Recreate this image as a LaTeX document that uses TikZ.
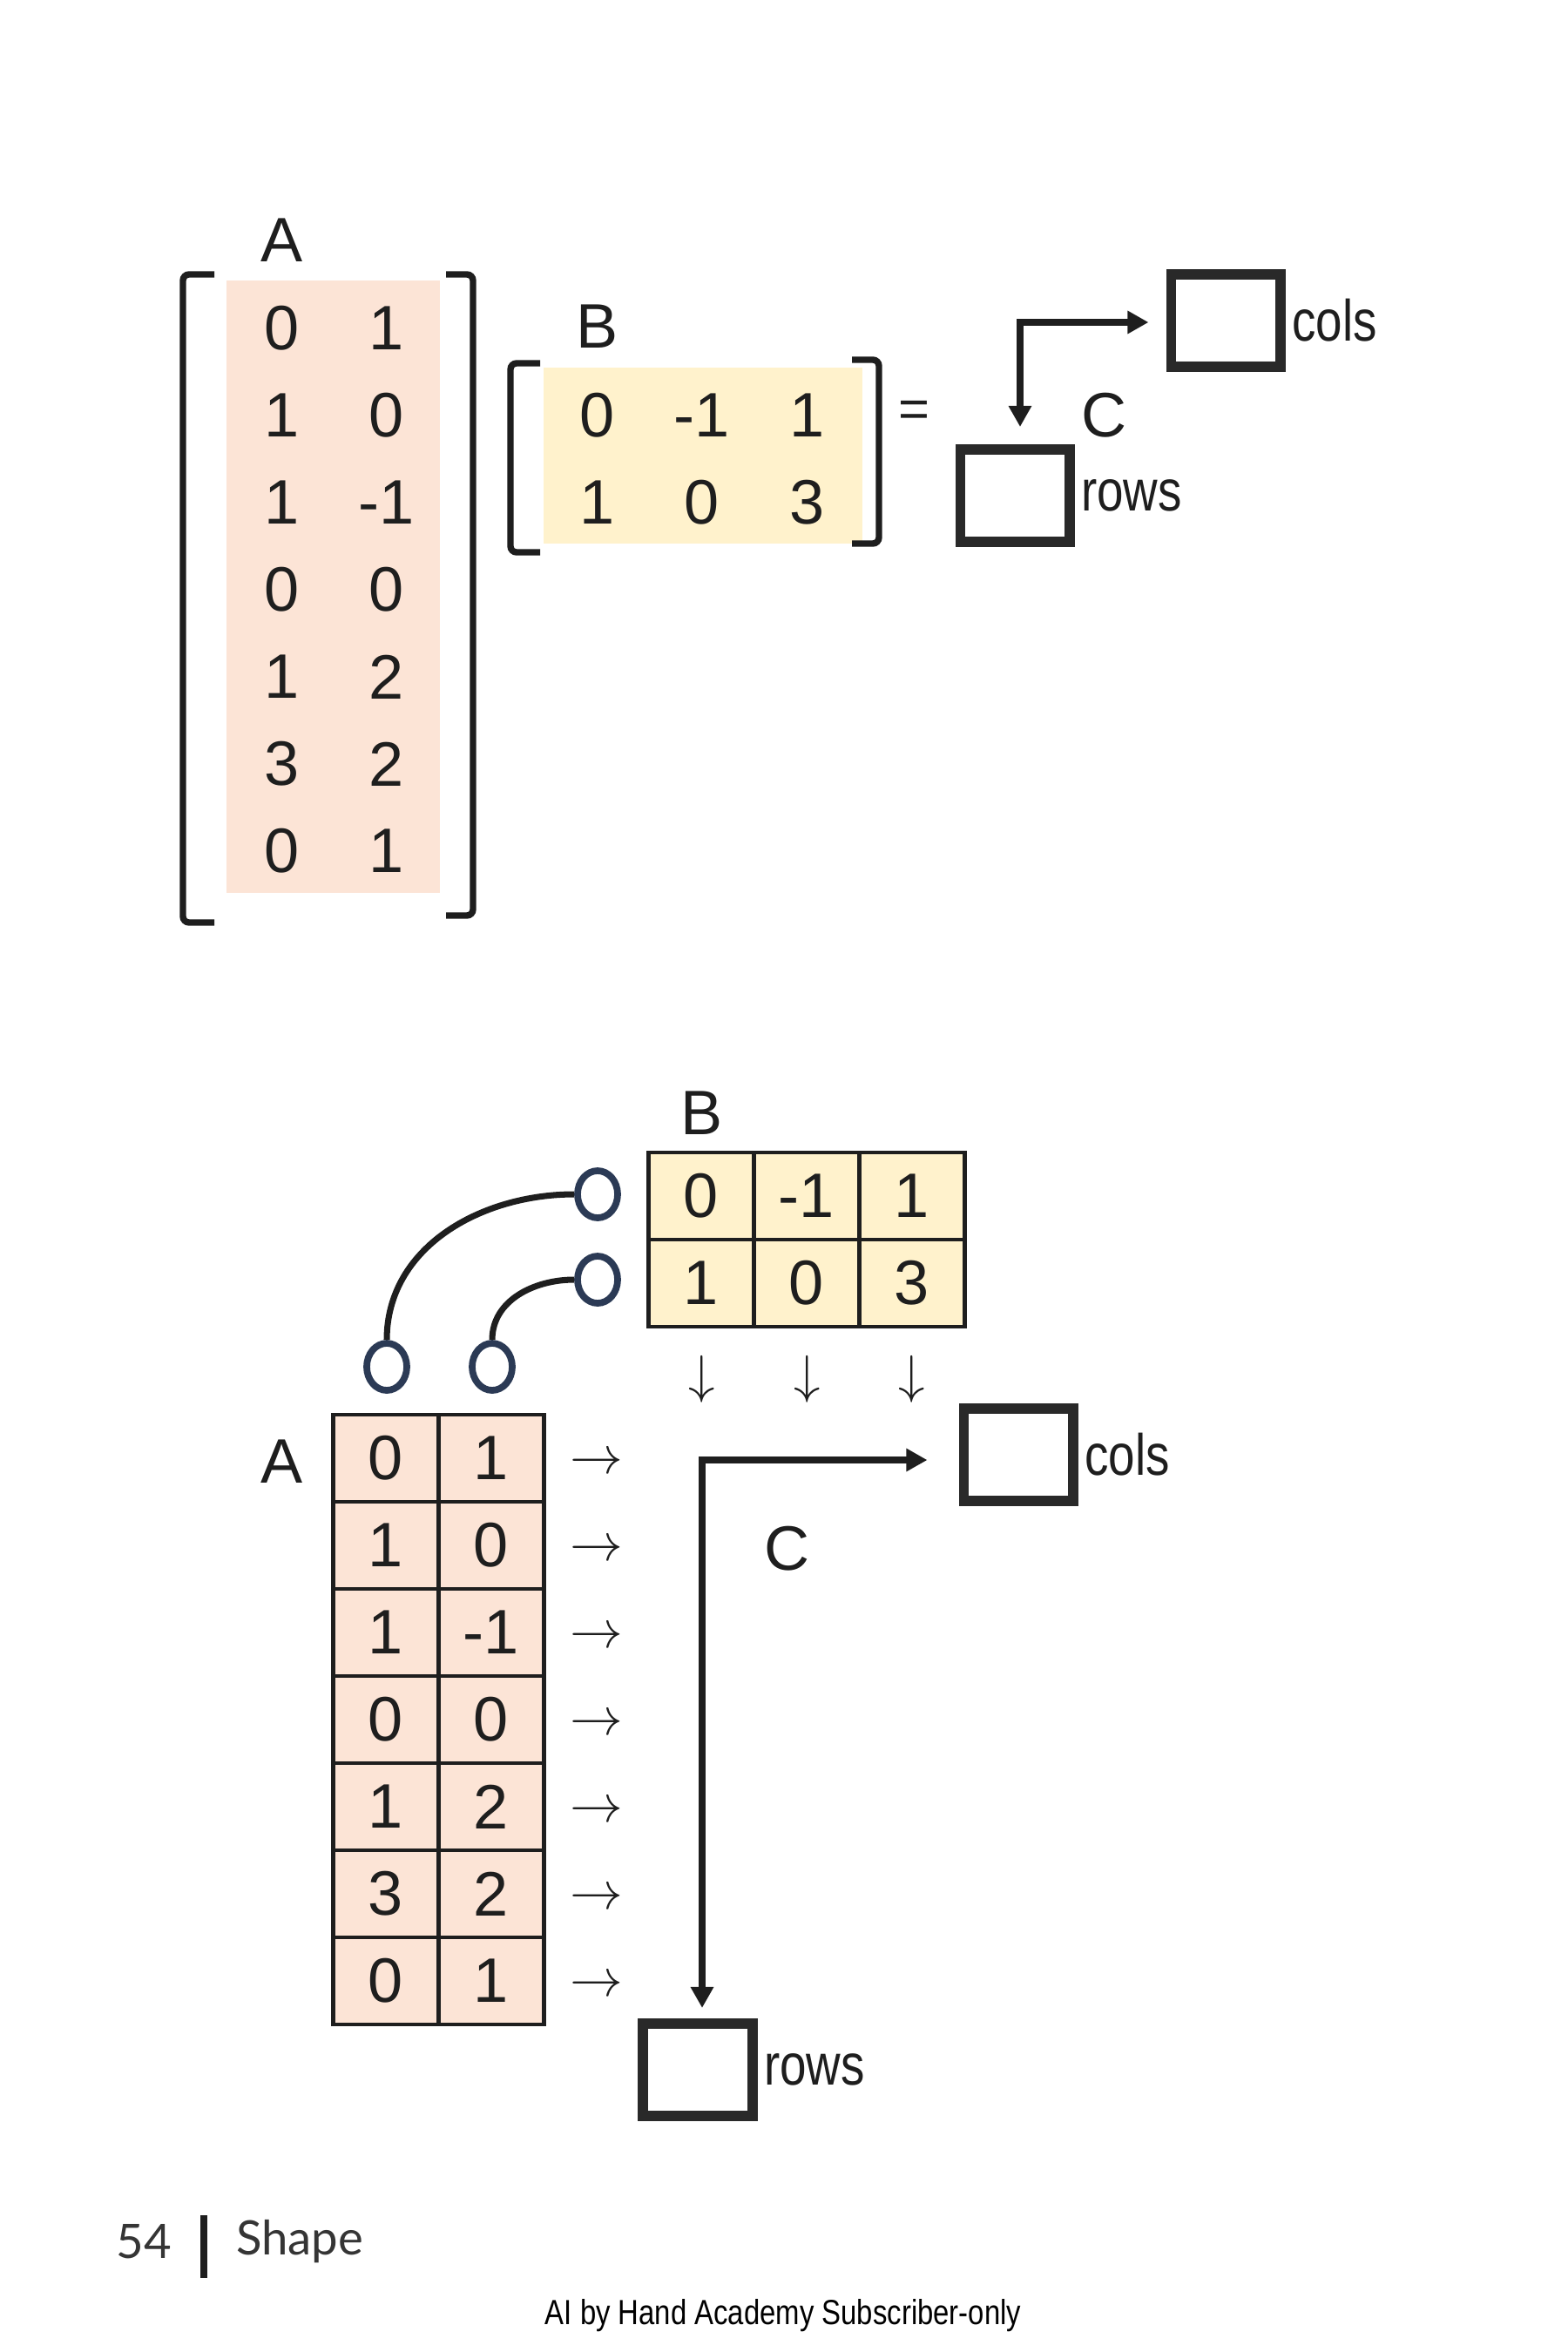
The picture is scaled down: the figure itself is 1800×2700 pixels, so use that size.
\documentclass[tikz,border=0pt]{standalone}
\usepackage{fontspec}
\setmainfont{Liberation Sans}
\newfontfamily\narrowfont[FakeStretch=0.82]{Liberation Sans}
\newfontfamily\footfont{Lato}
\usetikzlibrary{arrows.meta,positioning,shapes.geometric}
\definecolor{pinkfill}{HTML}{FCE4D6}
\definecolor{yellowfill}{HTML}{FFF2CC}
\definecolor{dotblue}{HTML}{2B3A55}
\definecolor{ink}{HTML}{1E1E1E}
\tikzset{
  num/.style={font=\fontsize{20.5}{24}\selectfont, text=ink, inner sep=0pt},
  mlabel/.style={num},
  acell/.style={num, draw=ink, fill=pinkfill, line width=1.3pt,
        minimum width=1.21cm, minimum height=1cm, outer sep=0pt},
  bcell/.style={acell, fill=yellowfill},
  bracket/.style={draw=ink, line width=2.1pt, rounded corners=2pt},
  shapebox/.style={draw=ink!95, line width=3.4pt, fill=white,
        minimum width=1.25cm, minimum height=1.06cm, inner sep=0pt},
  boxlabel/.style={font=\narrowfont\fontsize{19}{22}\selectfont, text=ink, inner sep=2pt},
  dimarrow/.style={draw=ink, line width=2.5pt,
        {Triangle[length=0.24cm,width=0.25cm]}-{Triangle[length=0.24cm,width=0.25cm]}},
  dot/.style={ellipse, draw=dotblue, line width=2.2pt, fill=white,
        minimum width=0.46cm, minimum height=0.54cm, inner sep=0pt},
  link/.style={draw=ink, line width=2pt},
  flow/.style={font=\fontsize{17.5}{20}\selectfont, text=ink, inner sep=0pt}
}

\begin{document}
\begin{tikzpicture}[x=0.01cm, y=-0.01cm]
\useasboundingbox (0,0) rectangle (1800,2700);

% matrices written out
\node[mlabel] (tA) at (324,276) {A};
\fill[pinkfill] (260,322) rectangle (505,1025);
\draw[bracket] (246,315) -- (210,315) -- (210,1059) -- (246,1059);
\draw[bracket] (512,315) -- (543,315) -- (543,1051) -- (512,1051);
\foreach \p/\q [count=\i] in {0/1,1/0,1/-1,0/0,1/2,3/2,0/1} {
  \node[num] (ta-\i-1) at (324,{377+100*(\i-1)}) {\p};
  \node[num] (ta-\i-2) at (444,{377+100*(\i-1)}) {\q};
}

\node[mlabel] (tB) at (686,375) {B};
\fill[yellowfill] (624,422) rectangle (990,624);
\draw[bracket] (620,417) -- (586,417) -- (586,634) -- (620,634);
\draw[bracket] (978,413) -- (1009,413) -- (1009,624) -- (978,624);
\foreach \p/\q/\r [count=\i] in {0/-1/1,1/0/3} {
  \node[num] (tb-\i-1) at (686,{477+100*(\i-1)}) {\p};
  \node[num] (tb-\i-2) at (806,{477+100*(\i-1)}) {\q};
  \node[num] (tb-\i-3) at (927,{477+100*(\i-1)}) {\r};
}
\node[flow] (eq) at (1049,475) {=};

\node[shapebox] (tcols) at (1407,368) {};
\node[boxlabel, right=0pt of tcols] (tcolstxt) {cols};
\node[shapebox] (trows) at (1165,569) {};
\node[boxlabel, right=0pt of trows] (trowstxt) {rows};
\node[mlabel] (tC) at (1268,477) {C};
\draw[dimarrow, shorten <=0.2cm, shorten >=0.2cm]
  ([xshift=0.06cm]trows.north) |- ([yshift=-0.02cm]tcols.west);

% matrices as grids
\node[mlabel] (bB) at (806,1278) {B};
\foreach \p/\q/\r [count=\i] in {0/-1/1,1/0/3} {
  \node[bcell] (bb-\i-1) at (805,{1373+100*(\i-1)}) {\p};
  \node[bcell] (bb-\i-2) at (926,{1373+100*(\i-1)}) {\q};
  \node[bcell] (bb-\i-3) at (1047,{1373+100*(\i-1)}) {\r};
}
\foreach \x [count=\j] in {806,927,1047}
  \node[flow] (down-\j) at (\x,1583) {$\downarrow$};

\node[mlabel] (bA) at (324,1678) {A};
\foreach \p/\q [count=\i] in {0/1,1/0,1/-1,0/0,1/2,3/2,0/1} {
  \node[acell] (ba-\i-1) at (443,{1674+100*(\i-1)}) {\p};
  \node[acell] (ba-\i-2) at (564,{1674+100*(\i-1)}) {\q};
  \node[flow] (right-\i) at (685,{1680+100*(\i-1)}) {$\rightarrow$};
}

\node[dot] (bdot1) at (686,1371) {};
\node[dot] (bdot2) at (686,1469) {};
\node[dot] (adot1) at (444,1569) {};
\node[dot] (adot2) at (565,1569) {};
\draw[link] (adot1) to[out=90, in=180] (bdot1);
\draw[link] (adot2) to[out=90, in=180] (bdot2);

\node[shapebox] (bcols) at (1169,1670) {};
\node[boxlabel, right=0pt of bcols] (bcolstxt) {cols};
\node[shapebox] (brows) at (801,2376) {};
\node[boxlabel, right=0pt of brows] (browstxt) {rows};
\node[mlabel] (bC) at (904,1778) {C};
\draw[dimarrow, shorten <=0.12cm, shorten >=0.36cm]
  ([xshift=0.05cm]brows.north) |- ([yshift=-0.06cm]bcols.west);

% page footer
\node[font=\footfont\fontsize{15.5}{18}\selectfont, text=ink!90] (pageno) at (165,2573) {54};
\draw[ink, line width=2.3pt] (234,2543) -- (234,2615);
\node[font=\footfont\fontsize{15.5}{18}\selectfont, text=ink!90] (section) at (344,2573) {Shape};
\node[font=\narrowfont\fontsize{11.4}{14}\selectfont, text=black] (credit) at (899,2658) {AI by Hand Academy Subscriber-only};
\end{tikzpicture}
\end{document}
